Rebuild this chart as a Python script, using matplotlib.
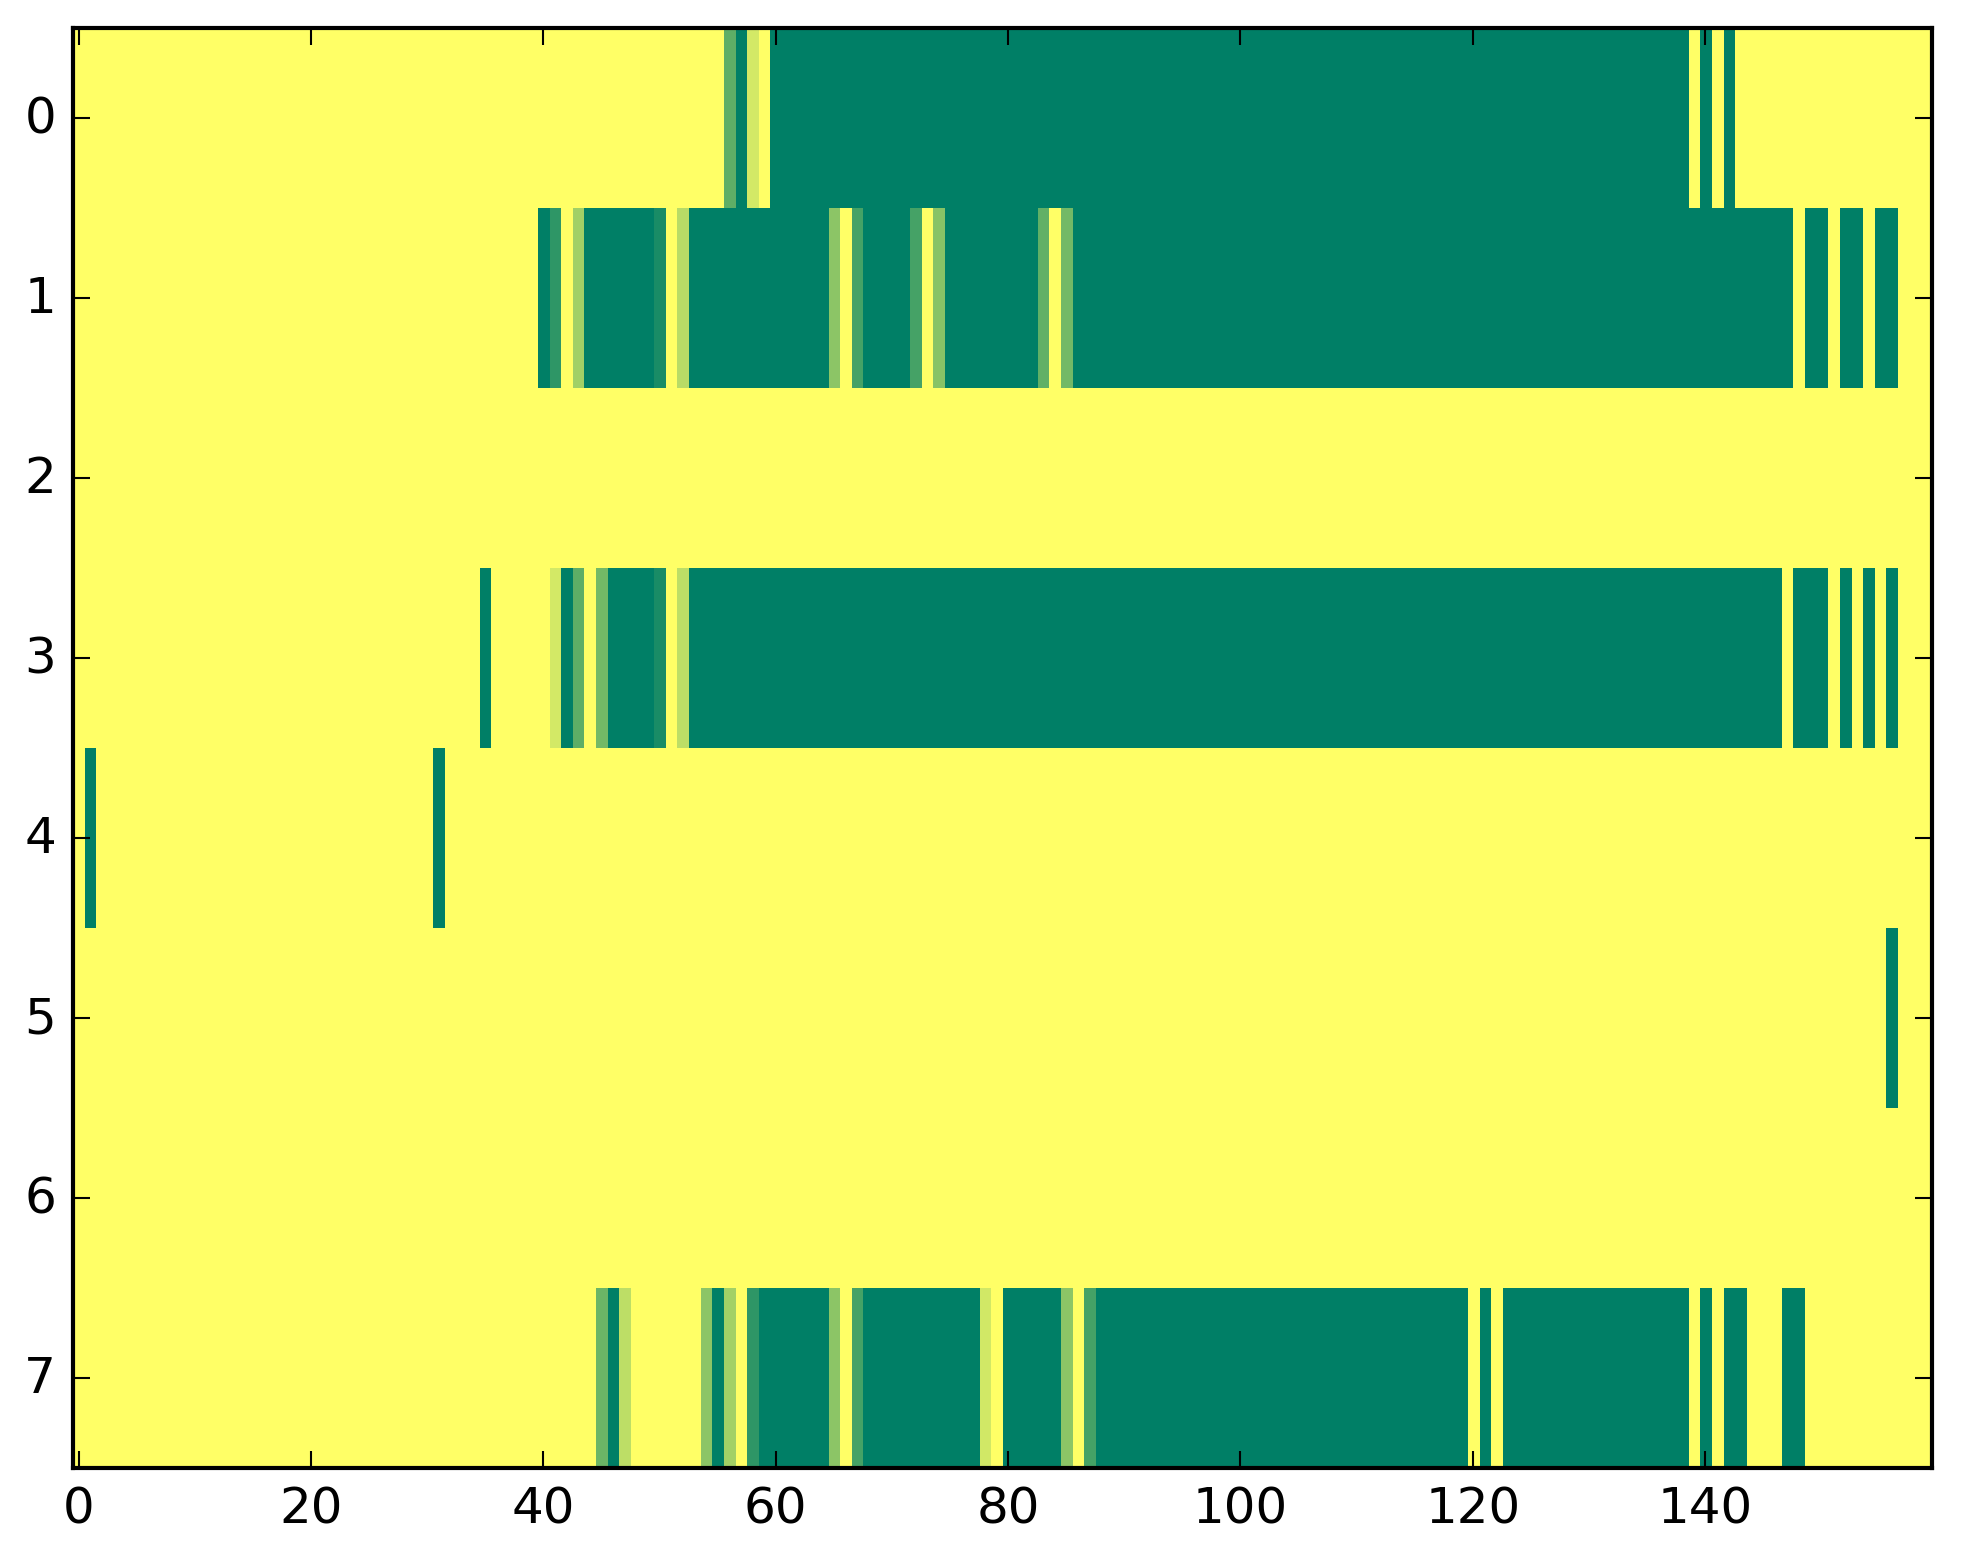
import matplotlib
matplotlib.use("Agg")
import matplotlib.pyplot as plt
import numpy as np

# grid size: 8 rows x 160 columns, default value 1.0 (yellow)
n_rows = 8
n_cols = 160

# non-yellow cells per row as (first column, last column, value)
row0 = [(56, 56, 0.37), (57, 57, 0.0), (58, 58, 0.83), (60, 138, 0.0),
        (140, 140, 0.0), (142, 142, 0.0)]
row1 = [(40, 40, 0.0), (41, 41, 0.18), (43, 43, 0.63), (44, 49, 0.0),
        (50, 50, 0.10), (52, 52, 0.72), (53, 64, 0.0), (65, 65, 0.55),
        (67, 67, 0.27), (68, 71, 0.0), (72, 72, 0.27), (74, 74, 0.53),
        (75, 82, 0.0), (83, 83, 0.38), (85, 85, 0.45), (86, 147, 0.0),
        (149, 150, 0.0), (152, 153, 0.0), (155, 156, 0.0)]
row2 = []
row3 = [(35, 35, 0.0), (41, 41, 0.83), (42, 42, 0.0), (43, 43, 0.37),
        (45, 45, 0.45), (46, 49, 0.0), (50, 50, 0.10), (52, 52, 0.74),
        (53, 146, 0.0), (148, 150, 0.0), (152, 152, 0.0), (154, 154, 0.0),
        (156, 156, 0.0)]
row4 = [(1, 1, 0.0), (31, 31, 0.0)]
row5 = [(156, 156, 0.0)]
row6 = []
row7 = [(45, 45, 0.42), (46, 46, 0.0), (47, 47, 0.74), (54, 54, 0.55),
        (55, 55, 0.0), (56, 56, 0.64), (58, 58, 0.18), (59, 64, 0.0),
        (65, 65, 0.55), (67, 67, 0.27), (68, 77, 0.0), (78, 78, 0.82),
        (80, 84, 0.0), (85, 85, 0.55), (87, 87, 0.27), (88, 119, 0.0),
        (121, 121, 0.0), (123, 138, 0.0), (140, 140, 0.0), (142, 143, 0.0),
        (147, 148, 0.0)]

rows = [row0, row1, row2, row3, row4, row5, row6, row7]

data = np.ones((n_rows, n_cols))
for r, runs in enumerate(rows):
    for first, last, val in runs:
        data[r, first:last + 1] = val

plt.style.use('classic')

fig = plt.figure(figsize=(1963 / 300.0, 1564 / 300.0), dpi=300, facecolor='white')
ax = fig.add_axes([72.7 / 1963, 1 - 1469.3 / 1564, (1931.8 - 72.7) / 1963, 1440 / 1564])
ax.imshow(data, cmap=plt.cm.summer, vmin=0, vmax=1, aspect='auto',
          interpolation='nearest')
ax.set_xticks(np.arange(0, 141, 20))
ax.set_yticks(np.arange(0, 8))
ax.set_xlim(-0.5, n_cols - 0.5)
ax.set_ylim(n_rows - 0.5, -0.5)
ax.tick_params(labelsize=12)

fig.savefig('out.png', dpi=300, facecolor='white')
